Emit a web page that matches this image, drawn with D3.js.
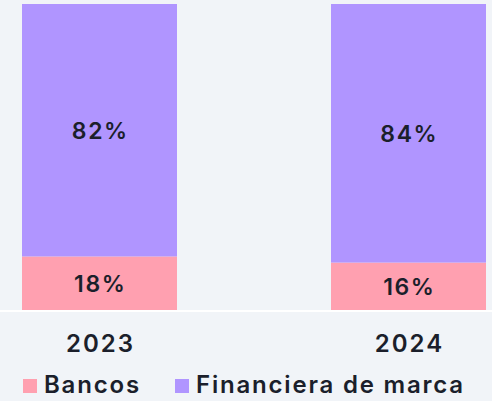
<!DOCTYPE html>
<html><head><meta charset="utf-8">
<script src="https://cdn.jsdelivr.net/npm/d3@7"></script>
<style>html,body{margin:0;padding:0;background:#f1f4f8;}svg{display:block;}</style>
</head><body><svg id="c" width="492" height="401"></svg>
<script>
const categories = ["2023", "2024"];
const seriesNames = ["Bancos", "Financiera de marca"];
const bancos = [17.5, 15.5];
const financiera = [82.5, 84.5];
const bancosLabels = ["18%", "16%"];
const financieraLabels = ["82%", "84%"];
const colors = ["#ffa0b0", "#b095ff"];

const svg = d3.select("#c");
const W = 492, H = 401;
const x = d3.scaleBand().domain(categories).range([22, 486]).paddingInner(0.4984).paddingOuter(0);
const y = d3.scaleLinear().domain([0, 100]).range([310, 4]);

const rows = categories.map((c, i) => ({cat: c, Bancos: bancos[i], "Financiera de marca": financiera[i],
  labels: [bancosLabels[i], financieraLabels[i]]}));
const stack = d3.stack().keys(seriesNames)(rows);

const textColor = "#1b1f2b";
const font = "Inter, 'DejaVu Sans', sans-serif";

stack.forEach((layer, li) => {
  svg.append("g").selectAll("rect").data(layer).join("rect")
    .attr("x", d => x(d.data.cat))
    .attr("width", x.bandwidth())
    .attr("y", d => y(d[1]))
    .attr("height", d => y(d[0]) - y(d[1]))
    .attr("fill", colors[li]);
  svg.append("g").selectAll("text").data(layer).join("text")
    .attr("x", d => x(d.data.cat) + x.bandwidth() / 2 + 0.8)
    .attr("y", d => (y(d[0]) + y(d[1])) / 2)
    .attr("dy", "0.36em")
    .attr("text-anchor", "middle")
    .attr("font-family", font).attr("font-size", 23).attr("font-weight", 600)
    .attr("letter-spacing", "1.6px")
    .attr("fill", textColor)
    .text(d => d.data.labels[li]);
});

// axis baseline
svg.append("line").attr("x1", 0).attr("x2", W).attr("y1", 311).attr("y2", 311)
  .attr("stroke", "#ffffff").attr("stroke-width", 2);

const xAxis = svg.append("g").attr("transform", "translate(0,311)")
  .call(d3.axisBottom(x).tickSize(0).tickPadding(24));
xAxis.select(".domain").remove();
xAxis.selectAll("text").attr("font-family", font).attr("font-size", 24).attr("font-weight", 600)
  .attr("letter-spacing", "2px").attr("dx", "1px").attr("fill", textColor);

// legend
const legendX = [22, 174];
const lg = svg.append("g").selectAll("g").data(seriesNames).join("g")
  .attr("transform", (d, i) => `translate(${legendX[i]},0)`);
lg.append("rect").attr("x", 1).attr("y", 379).attr("width", 14).attr("height", 14)
  .attr("fill", (d, i) => colors[i]);
lg.append("text").attr("x", 22).attr("y", 393)
  .attr("font-family", font).attr("font-size", 24).attr("font-weight", 600)
  .attr("letter-spacing", "1.8px").attr("fill", textColor).text(d => d);
</script></body></html>
